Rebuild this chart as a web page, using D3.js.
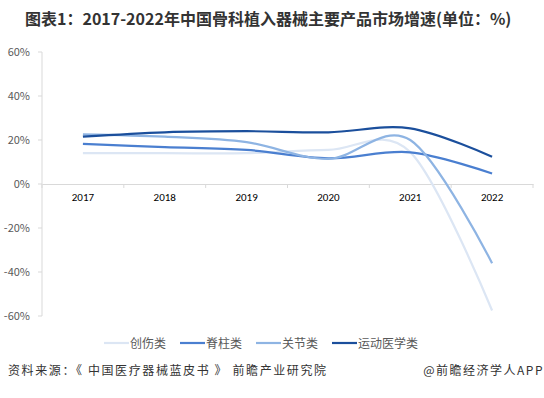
<!DOCTYPE html>
<html>
<head>
<meta charset="utf-8">
<script src="https://cdn.jsdelivr.net/npm/d3@7"></script>
<style>
  body { margin: 0; background: #fff; }
  svg { display: block; font-family: "Microsoft YaHei", "Noto Sans CJK SC", sans-serif; }
</style>
</head>
<body>
<svg width="544" height="398"></svg>
<script>
const svg = d3.select("svg"),
  width = +svg.attr("width"),
  height = +svg.attr("height");

// 数据
const years = ["2017", "2018", "2019", "2020", "2021", "2022"];
const yTicks = [-60, -40, -20, 0, 20, 40, 60];
const chuangshang = [14, 14, 14, 15.5, 14.5, -57.5];
const jizhu = [18.2, 16.8, 15.5, 11.7, 14.4, 4.8];
const guanjie = [22.6, 21.5, 19, 11.4, 20, -36];
const yundong = [21.5, 23.5, 24, 23.5, 25.3, 12.4];

const series = [
  { name: "创伤类", values: chuangshang, color: "#dce6f4" },
  { name: "脊柱类", values: jizhu, color: "#4a7fd0" },
  { name: "关节类", values: guanjie, color: "#8eb4e3" },
  { name: "运动医学类", values: yundong, color: "#1b4f9c" }
];

const margin = { top: 52, right: 11, bottom: 82, left: 42 };

// 标题
svg.append("text")
  .attr("x", 25)
  .attr("y", 25)
  .style("font-size", "16px")
  .style("font-weight", "bold")
  .attr("fill", "#333")
  .text("图表1：2017-2022年中国骨科植入器械主要产品市场增速(单位：%)");

// 比例尺
const x = d3.scaleBand()
  .domain(years)
  .range([margin.left, width - margin.right]);

const y = d3.scaleLinear()
  .domain([-60, 60])
  .range([316, 52]);

// 坐标轴
svg.append("line")
  .attr("x1", margin.left).attr("x2", margin.left)
  .attr("y1", y(60)).attr("y2", y(-60))
  .attr("stroke", "#d9d9d9");

svg.append("g")
  .selectAll("line.ytick")
  .data(yTicks)
  .join("line")
  .attr("x1", margin.left - 4).attr("x2", margin.left)
  .attr("y1", d => y(d)).attr("y2", d => y(d))
  .attr("stroke", "#d9d9d9");

svg.append("g")
  .selectAll("text")
  .data(yTicks)
  .join("text")
  .attr("x", 30)
  .attr("y", d => y(d) + 4)
  .attr("text-anchor", "end")
  .style("font-size", "11px")
  .attr("fill", "#595959")
  .text(d => d + "%");

const xAxis = svg.append("g")
  .attr("transform", `translate(0, ${y(0)})`)
  .call(d3.axisBottom(x).tickSize(0).tickPadding(9));
xAxis.select(".domain").attr("stroke", "#d9d9d9");
xAxis.selectAll("text")
  .style("font-size", "11px")
  .style("font-family", "Calibri, 'Liberation Sans', sans-serif")
  .attr("fill", "#000");

// 分隔刻度
svg.append("g")
  .selectAll("line")
  .data(years.concat(["end"]))
  .join("line")
  .attr("x1", (d, i) => margin.left + i * x.step())
  .attr("x2", (d, i) => margin.left + i * x.step())
  .attr("y1", y(0)).attr("y2", y(0) + 4)
  .attr("stroke", "#d9d9d9");

// 折线
const line = d3.line()
  .x((d, i) => x(years[i]) + x.bandwidth() / 2)
  .y(d => y(d))
  .curve(d3.curveCardinal.tension(0));

svg.append("g")
  .selectAll("path")
  .data(series)
  .join("path")
  .attr("d", d => line(d.values))
  .attr("fill", "none")
  .attr("stroke", d => d.color)
  .attr("stroke-width", 2.2);

// 图例
const legendX = [104, 180, 256, 332];
const legend = svg.append("g");
series.forEach((s, i) => {
  const g = legend.append("g").attr("transform", `translate(${legendX[i]}, 343)`);
  g.append("line")
    .attr("x1", 0).attr("x2", 25)
    .attr("stroke", s.color)
    .attr("stroke-width", 2.2);
  g.append("text")
    .attr("x", 26).attr("y", 4.5)
    .style("font-size", "12px")
    .attr("fill", "#595959")
    .text(s.name);
});

// 来源
svg.append("text")
  .attr("x", 8)
  .attr("y", 375)
  .style("font-size", "12px")
  .style("letter-spacing", "1.6px")
  .attr("fill", "#333")
  .text("资料来源：《 中国医疗器械蓝皮书 》 前瞻产业研究院");

svg.append("text")
  .attr("x", 544)
  .attr("y", 375)
  .attr("text-anchor", "end")
  .style("font-size", "12px")
  .style("letter-spacing", "1.5px")
  .attr("fill", "#333")
  .text("@前瞻经济学人APP");
</script>
</body>
</html>
